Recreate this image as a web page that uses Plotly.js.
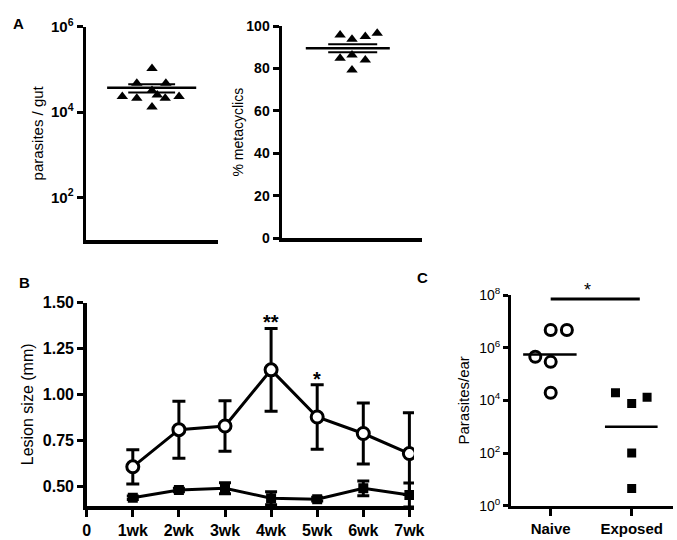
<!DOCTYPE html>
<html><head><meta charset="utf-8">
<script src="https://cdn.plot.ly/plotly-3.0.1.min.js"></script>
<style>body{margin:0;background:#fff}#chart{width:677px;height:540px}</style>
</head><body><div id="chart"></div>
<script>
// ---- Panel A (left): parasites per gut ----
const gutParasites = [105000, 47000, 47000, 32000, 23000, 21000, 25000, 21000, 23000, 13200];
const gutJitter    = [0, -0.23, 0.21, 0, -0.45, -0.23, 0.08, 0.2, 0.41, 0];
const gutMean = 37000, gutSemHigh = 45000, gutSemLow = 28500;
const gutTickVals = [1e2, 1e4, 1e6];
const gutTickText = ['10<sup>2</sup>', '10<sup>4</sup>', '10<sup>6</sup>'];

// ---- Panel A (right): % metacyclics ----
const metaPct    = [95.8, 93.7, 95.0, 96.6, 84.8, 86.3, 84.0, 79.3];
const metaJitter = [-0.17, 0, 0.19, 0.36, -0.17, 0, 0.19, 0];
const metaMean = 89.5, metaSemHigh = 91.4, metaSemLow = 87.6;
const metaTickVals = [0, 20, 40, 60, 80, 100];

// ---- Panel B: lesion size over time ----
const weeks = [1, 2, 3, 4, 5, 6, 7];
const weekTickVals = [0, 1, 2, 3, 4, 5, 6, 7];
const weekLabels = ['0', '1wk', '2wk', '3wk', '4wk', '5wk', '6wk', '7wk'];
const naiveLesion   = [0.608, 0.81, 0.83, 1.135, 0.879, 0.789, 0.68];
const naiveSEM      = [0.093, 0.155, 0.137, 0.225, 0.175, 0.166, 0.222];
const exposedLesion = [0.44, 0.482, 0.491, 0.437, 0.432, 0.491, 0.455];
const exposedSEM    = [0.01, 0.01, 0.03, 0.035, 0.01, 0.04, 0.065];
const lesionTickVals = [0.5, 0.75, 1.0, 1.25, 1.5];
const sigWeeks = [4, 5];
const sigMarks = ['**', '*'];

// ---- Panel C: parasites per ear ----
const groups = ['Naive', 'Exposed'];
const naiveEar      = [4.7e6, 4.7e6, 4.5e5, 2.9e5, 1.95e4];
const naiveJitter   = [0, 0.2, -0.19, 0, 0];
const naiveEarMean  = 5.5e5;
const exposedEar     = [1.95e4, 7.6e3, 1.3e4, 100, 4.5];
const exposedJitter  = [-0.2, 0, 0.19, 0, 0];
const exposedEarMean = 1000;
const earTickVals = [1, 1e2, 1e4, 1e6, 1e8];
const earTickText = ['10<sup>0</sup>', '10<sup>2</sup>', '10<sup>4</sup>', '10<sup>6</sup>', '10<sup>8</sup>'];
const earSigLevel = 7.1e7;

const FONT = 'Arial, "Liberation Sans", sans-serif';
const W = 677, H = 540;
const px = v => v / W, py = v => 1 - v / H;

function hline(x0, x1, y, xa, ya, w) {
  return {x: [x0, x1], y: [y, y], xaxis: xa, yaxis: ya, mode: 'lines',
          line: {color: 'black', width: w}, hoverinfo: 'skip', showlegend: false};
}

const traces = [
  // A left
  {x: gutJitter, y: gutParasites, xaxis: 'x', yaxis: 'y', mode: 'markers', showlegend: false,
   marker: {symbol: 'triangle-up', size: 10, color: 'black'}},
  hline(-0.68, 0.67, gutMean, 'x', 'y', 2.5),
  hline(-0.36, 0.35, gutSemHigh, 'x', 'y', 2),
  hline(-0.36, 0.35, gutSemLow, 'x', 'y', 2),
  // A right
  {x: metaJitter, y: metaPct, xaxis: 'x2', yaxis: 'y2', mode: 'markers', showlegend: false,
   marker: {symbol: 'triangle-up', size: 10, color: 'black'}},
  hline(-0.66, 0.54, metaMean, 'x2', 'y2', 2.5),
  hline(-0.34, 0.36, metaSemHigh, 'x2', 'y2', 2),
  hline(-0.34, 0.36, metaSemLow, 'x2', 'y2', 2),
  // B
  {x: weeks, y: exposedLesion, xaxis: 'x3', yaxis: 'y3', mode: 'lines+markers', showlegend: false,
   error_y: {type: 'data', array: exposedSEM, visible: true, color: 'black', thickness: 3, width: 6},
   line: {color: 'black', width: 3},
   marker: {symbol: 'square', size: 10, color: 'black'}},
  {x: weeks, y: naiveLesion, xaxis: 'x3', yaxis: 'y3', mode: 'lines+markers', showlegend: false,
   error_y: {type: 'data', array: naiveSEM, visible: true, color: 'black', thickness: 3, width: 6.5},
   line: {color: 'black', width: 3},
   marker: {symbol: 'circle', size: 12, color: 'white', line: {color: 'black', width: 3}}},
  // C
  {x: naiveJitter.map(j => 0 + j), y: naiveEar, xaxis: 'x4', yaxis: 'y4', mode: 'markers', showlegend: false,
   marker: {symbol: 'circle', size: 11, color: 'white', line: {color: 'black', width: 3}}},
  {x: exposedJitter.map(j => 1 + j), y: exposedEar, xaxis: 'x4', yaxis: 'y4', mode: 'markers', showlegend: false,
   marker: {symbol: 'square', size: 9, color: 'black'}},
  hline(-0.34, 0.32, naiveEarMean, 'x4', 'y4', 2.5),
  hline(0.67, 1.32, exposedEarMean, 'x4', 'y4', 2.5),
  hline(0, 1.1, earSigLevel, 'x4', 'y4', 3)
];

const axLine = {showline: true, linecolor: 'black', zeroline: false, showgrid: false};
const boldTick = s => ({family: FONT, size: s, color: 'black', weight: 'bold'});

const annotations = [
  {text: 'A', xref: 'paper', yref: 'paper', x: px(11), y: py(13), showarrow: false,
   font: {family: FONT, size: 15, weight: 'bold', color: 'black'}},
  {text: 'B', xref: 'paper', yref: 'paper', x: px(17), y: py(282), showarrow: false,
   font: {family: FONT, size: 15, weight: 'bold', color: 'black'}},
  {text: 'C', xref: 'paper', yref: 'paper', x: px(422), y: py(277), showarrow: false,
   font: {family: FONT, size: 15, weight: 'bold', color: 'black'}},
  {text: '*', xref: 'paper', yref: 'paper', x: px(593), y: py(290), showarrow: false, yanchor: 'middle',
   font: {family: FONT, size: 18, color: 'black'}}
];
sigWeeks.forEach((w, i) => {
  const k = weeks.indexOf(w);
  annotations.push({text: sigMarks[i], xref: 'x3', yref: 'y3', x: w, y: naiveLesion[k] + naiveSEM[k],
    showarrow: false, yanchor: 'middle', yshift: 6, font: {family: FONT, size: 20, weight: 'bold', color: 'black'}});
});

const layout = {
  width: W, height: H, margin: {l: 0, r: 0, t: 0, b: 0},
  paper_bgcolor: 'white', plot_bgcolor: 'rgba(0,0,0,0)', showlegend: false,
  font: {family: FONT, color: 'black'},
  xaxis: Object.assign({}, axLine, {domain: [px(86), px(218)], range: [-1, 1], anchor: 'y',
    linewidth: 3.5, showticklabels: false, ticks: ''}),
  yaxis: Object.assign({}, axLine, {domain: [py(240), py(26.7)], type: 'log', range: [1, 6], anchor: 'x',
    linewidth: 3.5, ticks: 'outside', ticklen: 6, tickwidth: 3, tickcolor: 'black',
    tickvals: gutTickVals, ticktext: gutTickText, tickfont: boldTick(15),
    title: {text: 'parasites / gut', font: {family: FONT, size: 15, color: 'black'}, standoff: 4}}),
  xaxis2: Object.assign({}, axLine, {domain: [px(282), px(422)], range: [-1, 1], anchor: 'y2',
    linewidth: 3.5, showticklabels: false, ticks: ''}),
  yaxis2: Object.assign({}, axLine, {domain: [py(238.3), py(26)], range: [0, 100], anchor: 'x2',
    linewidth: 3.5, ticks: 'outside', ticklen: 6, tickwidth: 3, tickcolor: 'black',
    tickvals: metaTickVals, tickfont: boldTick(14),
    title: {text: '% metacyclics', font: {family: FONT, size: 14, color: 'black'}, standoff: 0}}),
  xaxis3: Object.assign({}, axLine, {domain: [px(86.7), px(414)], range: [0, 7.1], anchor: 'y3',
    linewidth: 3.5, ticks: 'outside', ticklen: 7, tickwidth: 3, tickcolor: 'black',
    tickvals: weekTickVals, ticktext: weekLabels, tickfont: boldTick(16)}),
  yaxis3: Object.assign({}, axLine, {domain: [py(506), py(302.7)], range: [0.395, 1.5], anchor: 'x3',
    linewidth: 3.5, ticks: 'outside', ticklen: 6, tickwidth: 3, tickcolor: 'black',
    tickvals: lesionTickVals, tickformat: '.2f', tickfont: boldTick(16),
    title: {text: 'Lesion size (mm)', font: {family: FONT, size: 16, color: 'black'}, standoff: 6}}),
  xaxis4: Object.assign({}, axLine, {domain: [px(511), px(673)], range: [-0.49, 1.51], anchor: 'y4',
    linewidth: 3, ticks: 'outside', ticklen: 7, tickwidth: 3, tickcolor: 'black',
    tickvals: [0, 1], ticktext: groups, tickfont: boldTick(15)}),
  yaxis4: Object.assign({}, axLine, {domain: [py(505.7), py(295)], type: 'log', range: [0, 8], anchor: 'x4',
    linewidth: 3, ticks: 'outside', ticklen: 5, tickwidth: 3, tickcolor: 'black',
    tickvals: earTickVals, ticktext: earTickText, tickfont: {family: FONT, size: 14, color: 'black'},
    title: {text: 'Parasites/ear', font: {family: FONT, size: 15, color: 'black'}, standoff: 6}}),
  annotations: annotations
};

Plotly.newPlot('chart', traces, layout, {staticPlot: true, displayModeBar: false});
</script>
</body></html>
